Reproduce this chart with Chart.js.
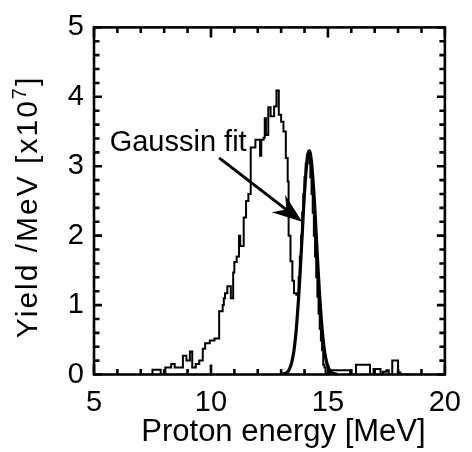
<!DOCTYPE html>
<html><head><meta charset="utf-8">
<script src="https://cdn.jsdelivr.net/npm/chart.js@4/dist/chart.umd.min.js"></script>
<style>html,body{margin:0;padding:0;background:#fff}</style>
</head><body>
<canvas id="c" width="472" height="452" style="width:472px;height:452px;display:block"></canvas>
<script>
// Histogram: bin start energies (MeV) and yield per MeV [x10^7] (step held until next edge)
const histEdges = [7.5,7.85,8.05,8.3,8.45,8.8,8.95,9.1,9.2,9.35,9.5,9.65,9.75,9.95,10.15,10.35,10.5,10.55,10.6,10.7,10.85,10.95,11.0,11.1,11.2,11.25,11.4,11.5,11.6,11.7,11.9,12.1,12.15,12.25,12.3,12.35,12.45,12.55,12.7,12.8,12.9,13.0,13.1,13.2,13.28,13.32,13.4,13.48,13.55,13.65,13.75,13.8,13.85,13.9,13.95,14.0,14.05,14.1,14.15,14.2,14.25,14.3,14.35,14.4,14.45,14.5,14.55,14.6,14.65,14.7,14.75,14.8,14.85,14.9,15.05,15.95,16.2,16.8,16.95,17.25,17.35,17.5,17.6,17.75,18.0,18.1,18.2,18.5];
const histYield = [0,0.07,0,0.1,0.15,0.1,0.27,0.2,0.33,0.1,0.15,0.2,0.37,0.45,0.49,0.52,0.91,1.0,1.1,1.17,1.27,1.1,1.47,1.62,1.7,2.0,1.85,2.26,2.5,2.6,3.27,3.38,3.15,3.38,3.41,3.69,3.45,3.85,3.72,3.86,4.09,3.74,3.64,3.5,3.12,2.78,2.0,1.63,1.35,1.17,1.15,1.4,1.7,2.0,2.33,2.6,2.84,3.04,3.16,3.16,3.04,2.84,2.6,2.33,2.0,1.7,1.4,1.12,0.88,0.66,0.49,0.35,0.14,0.1,0,0.06,0,0.14,0,0.08,0,0.04,0.06,0,0.2,0.03,0,0];
// Gaussian fit curve
const fitEnergy = [13.0,13.2,13.25,13.3,13.35,13.4,13.45,13.5,13.55,13.6,13.65,13.7,13.75,13.8,13.85,13.9,13.95,14.0,14.05,14.1,14.15,14.2,14.25,14.3,14.35,14.4,14.45,14.5,14.55,14.6,14.65,14.7,14.75,14.8,14.85,14.9,14.95,15.0,15.05,15.1,15.15,15.2,15.4];
const fitYield = [0.002,0.018,0.03,0.047,0.075,0.115,0.17,0.25,0.35,0.49,0.66,0.88,1.12,1.4,1.7,2.01,2.34,2.62,2.86,3.06,3.18,3.22,3.18,3.06,2.86,2.62,2.34,2.01,1.7,1.4,1.12,0.88,0.66,0.49,0.35,0.25,0.17,0.115,0.075,0.047,0.03,0.018,0.002];
const xTickLabels = [5,10,15,20];
const yTickLabels = [0,1,2,3,4,5];
const xMinorStep = 1, yMinorStep = 0.2;
const labelText = 'Gaussin fit';
const labelAt = [5.67, 3.22];
const arrowFrom = [10.35, 3.12];
const arrowTo = [13.9, 2.2];
const xTitle = 'Proton energy [MeV]';
const yTitleMain = 'Yield /MeV [x10', yTitleSup = '7', yTitleEnd = ']';

const FONT = "'Liberation Sans', Arial, Helvetica, sans-serif";

const framePlugin = {
  id: 'frame',
  afterDatasetsDraw(chart) {
    const {ctx, chartArea: a, scales: {x, y}} = chart;
    ctx.save();
    ctx.strokeStyle = '#000';
    ctx.fillStyle = '#000';
    ctx.lineWidth = 2.6;
    ctx.lineCap = 'butt';
    ctx.strokeRect(a.left, a.top, a.right - a.left, a.bottom - a.top);
    ctx.beginPath();
    for (let v = x.min; v <= x.max + 1e-9; v += xMinorStep) {
      const px = x.getPixelForValue(v);
      const major = xTickLabels.some(t => Math.abs(t - v) < 1e-6);
      const len = major ? 10 : 5.5;
      ctx.moveTo(px, a.bottom); ctx.lineTo(px, a.bottom - len);
      ctx.moveTo(px, a.top); ctx.lineTo(px, a.top + len);
    }
    for (let v = y.min; v <= y.max + 1e-9; v += yMinorStep) {
      const py = y.getPixelForValue(v);
      const major = yTickLabels.some(t => Math.abs(t - v) < 1e-6);
      const len = major ? 8 : 5.5;
      ctx.moveTo(a.left, py); ctx.lineTo(a.left + len, py);
      ctx.moveTo(a.right, py); ctx.lineTo(a.right - len, py);
    }
    ctx.stroke();
    // annotation text
    ctx.font = '29px ' + FONT;
    ctx.textBaseline = 'alphabetic';
    ctx.textAlign = 'left';
    ctx.fillText(labelText, x.getPixelForValue(labelAt[0]), y.getPixelForValue(labelAt[1]));
    // arrow
    const x0 = x.getPixelForValue(arrowFrom[0]), y0 = y.getPixelForValue(arrowFrom[1]);
    const x1 = x.getPixelForValue(arrowTo[0]), y1 = y.getPixelForValue(arrowTo[1]);
    const dx = x1 - x0, dy = y1 - y0, d = Math.hypot(dx, dy);
    const ux = dx / d, uy = dy / d, nx = -uy, ny = ux;
    const L = 30, W = 11, back = 10;
    ctx.lineWidth = 3;
    ctx.beginPath();
    ctx.moveTo(x0, y0);
    ctx.lineTo(x1 - ux * (L - back), y1 - uy * (L - back));
    ctx.stroke();
    ctx.beginPath();
    ctx.moveTo(x1, y1);
    ctx.lineTo(x1 - ux * L + nx * W, y1 - uy * L + ny * W);
    ctx.lineTo(x1 - ux * (L - back), y1 - uy * (L - back));
    ctx.lineTo(x1 - ux * L - nx * W, y1 - uy * L - ny * W);
    ctx.closePath();
    ctx.fill();
    // x-axis title
    ctx.font = '31px ' + FONT;
    ctx.textAlign = 'center';
    ctx.fillText(xTitle, (a.left + a.right) / 2 + 14, 441);
    // y-axis title with superscript
    ctx.textAlign = 'left';
    ctx.translate(37, (a.top + a.bottom) / 2 + 6);
    ctx.rotate(-Math.PI / 2);
    ctx.letterSpacing = '2px';
    ctx.font = '30px ' + FONT;
    const w1 = ctx.measureText(yTitleMain).width;
    ctx.font = '20px ' + FONT;
    const w2 = ctx.measureText(yTitleSup).width;
    ctx.font = '30px ' + FONT;
    const w3 = ctx.measureText(yTitleEnd).width;
    const total = w1 + w2 + w3;
    const sx = -total / 2;
    ctx.fillText(yTitleMain, sx, 0);
    ctx.font = '20px ' + FONT;
    ctx.fillText(yTitleSup, sx + w1, -11);
    ctx.font = '30px ' + FONT;
    ctx.fillText(yTitleEnd, sx + w1 + w2, 0);
    ctx.restore();
  }
};

new Chart(document.getElementById('c'), {
  type: 'line',
  data: {
    datasets: [
      {
        data: histEdges.map((e, i) => ({x: e, y: histYield[i]})),
        stepped: 'after',
        borderColor: '#000',
        borderWidth: 2,
        pointRadius: 0,
        fill: false
      },
      {
        data: fitEnergy.map((e, i) => ({x: e, y: fitYield[i]})),
        borderColor: '#000',
        borderWidth: 3.2,
        pointRadius: 0,
        tension: 0.3,
        fill: false
      }
    ]
  },
  options: {
    responsive: false,
    animation: false,
    devicePixelRatio: 1,
    layout: {padding: {top: 14, right: 18, left: 0, bottom: 0}},
    plugins: {legend: {display: false}, tooltip: {enabled: false}},
    scales: {
      x: {
        type: 'linear', min: 5, max: 20,
        afterBuildTicks: s => { s.ticks = xTickLabels.map(v => ({value: v})); },
        afterFit: s => { s.height = 77.5; },
        grid: {display: false, drawTicks: false},
        border: {display: false},
        ticks: {color: '#000', font: {family: FONT, size: 29}, padding: 11, maxRotation: 0},
        title: {display: false}
      },
      y: {
        type: 'linear', min: 0, max: 5,
        afterBuildTicks: s => { s.ticks = yTickLabels.map(v => ({value: v})); },
        afterFit: s => { s.width = 94; },
        grid: {display: false, drawTicks: false},
        border: {display: false},
        ticks: {color: '#000', font: {family: FONT, size: 29}, padding: 10},
        title: {display: false}
      }
    }
  },
  plugins: [framePlugin]
});
</script>
</body></html>
